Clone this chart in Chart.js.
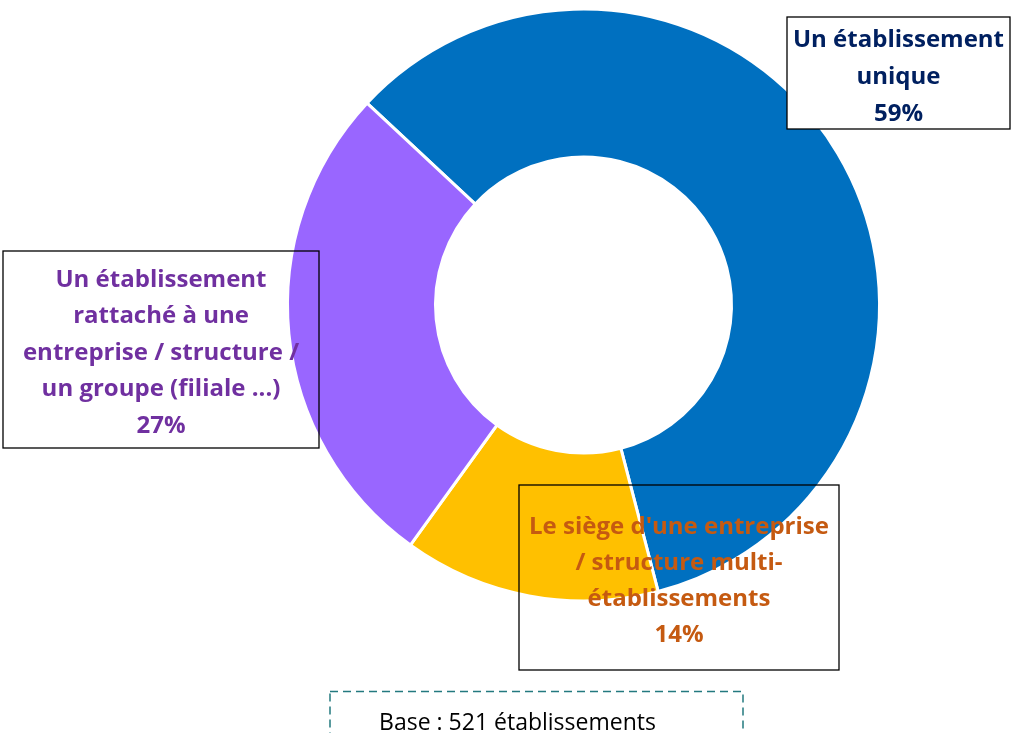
<!DOCTYPE html>
<html lang="fr">
<head>
  <meta charset="UTF-8">
  <title>Type d'établissement</title>
  <script src="https://cdn.jsdelivr.net/npm/chart.js"></script>
  <style>
    body { margin: 0; background: #fff; }
  </style>
</head>
<body>
  <canvas id="myChart" width="1011" height="733"></canvas>

  <script>
    var categories = [
      'Un établissement unique',
      "Le siège d'une entreprise / structure multi-établissements",
      'Un établissement rattaché à une entreprise / structure / un groupe (filiale ...)'
    ];
    var shares = [59, 14, 27];
    var sliceColors = ['#0070C0', '#FFC000', '#9966FF'];
    // label lines as they wrap in the original
    var labelLines = [
      ['Un établissement', 'unique'],
      ["Le siège d'une entreprise", '/ structure multi-', 'établissements'],
      ['Un établissement', 'rattaché à une', 'entreprise / structure /', 'un groupe (filiale ...)']
    ];
    var labelColors = ['#002060', '#C55A11', '#7030A0'];
    var baseText = 'Base : 521 établissements';

    // box geometry for each label: x, y, w, h, first baseline, line step, filled
    var boxes = [
      { x: 787, y: 17, w: 223, h: 112, base: 47, step: 37, fill: true },
      { x: 519, y: 485, w: 320, h: 185, base: 533.5, step: 36, fill: false },
      { x: 3, y: 251, w: 316, h: 197, base: 286.5, step: 36.5, fill: false }
    ];

    var labelBoxes = {
      id: 'labelBoxes',
      afterDraw: function(chart) {
        var ctx = chart.ctx;
        ctx.save();
        boxes.forEach(function(b, i) {
          if (b.fill) {
            ctx.fillStyle = '#fff';
            ctx.fillRect(b.x, b.y, b.w, b.h);
          }
          ctx.strokeStyle = '#000';
          ctx.lineWidth = 1.3;
          ctx.strokeRect(b.x, b.y, b.w, b.h);

          var lines = labelLines[i].concat([shares[i] + '%']);
          ctx.fillStyle = labelColors[i];
          ctx.font = 'bold 24px "Open Sans"';
          ctx.textAlign = 'center';
          ctx.textBaseline = 'alphabetic';
          lines.forEach(function(t, j) {
            ctx.fillText(t, b.x + b.w / 2, b.base + j * b.step);
          });
        });

        // base note in dashed frame
        ctx.setLineDash([8, 5]);
        ctx.strokeStyle = '#23797F';
        ctx.lineWidth = 1.5;
        ctx.strokeRect(330, 691.5, 413, 60);
        ctx.setLineDash([]);
        ctx.fillStyle = '#000';
        ctx.font = '23px "Open Sans"';
        ctx.textAlign = 'center';
        ctx.fillText(baseText, 517.5, 730);
        ctx.restore();
      }
    };

    var ctx = document.getElementById('myChart').getContext('2d');
    var chart = new Chart(ctx, {
      type: 'doughnut',
      data: {
        labels: categories,
        datasets: [{
          data: shares,
          backgroundColor: sliceColors,
          borderColor: '#fff',
          borderWidth: 3
        }]
      },
      options: {
        responsive: false,
        animation: false,
        rotation: -47,
        cutout: '50%',
        layout: { padding: { left: 286, top: 7.5, right: 130, bottom: 130.5 } },
        plugins: {
          legend: { display: false },
          tooltip: { enabled: false }
        }
      },
      plugins: [labelBoxes]
    });
  </script>
</body>
</html>
